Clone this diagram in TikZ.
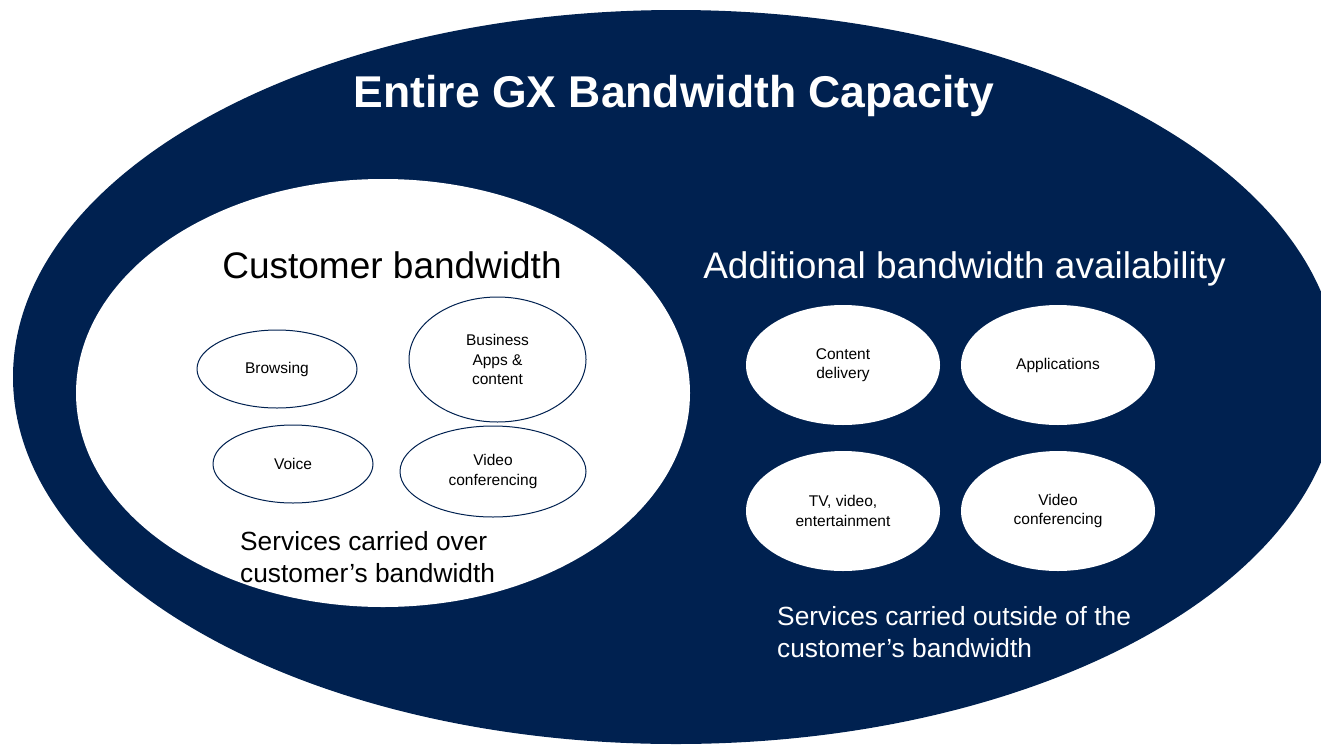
\documentclass[tikz,border=0pt]{standalone}
\usepackage{fontspec}
\setmainfont{Liberation Sans}
\usetikzlibrary{shapes.geometric}
\definecolor{gxnavy}{RGB}{0,33,80}
\begin{document}
\begin{tikzpicture}[x=1pt,y=-1pt,
  outerell/.style={ellipse, fill=gxnavy, draw=none, inner sep=0pt},
  innerell/.style={ellipse, fill=white, draw=none, inner sep=0pt},
  svcell/.style={ellipse, fill=white, draw=gxnavy, line width=1pt, inner sep=0pt, align=center, font=\fontsize{15.5}{19.5}\selectfont},
  extell/.style={ellipse, fill=white, draw=none, inner sep=0pt, align=center, font=\fontsize{15.5}{19.5}\selectfont},
  bigtitle/.style={font=\bfseries\fontsize{44.5}{50}\selectfont, text=white, anchor=base, inner sep=0pt},
  heading/.style={font=\fontsize{37}{44}\selectfont, anchor=base, inner sep=0pt},
  caption/.style={font=\fontsize{26.3}{31.3}\selectfont, anchor=base west, align=left, inner sep=0pt}
]
\useasboundingbox (0,0) rectangle (1321,744);
\clip (0,0) rectangle (1321,744);
\node[outerell, minimum width=1326pt, minimum height=734pt] (gx) at (676,377) {};
\node[innerell, minimum width=614pt, minimum height=428pt] (cust) at (383,393) {};

\node[bigtitle] (title) at (674,107) {Entire GX Bandwidth Capacity};
\node[heading, text=black] (custhead) at (392,278) {Customer bandwidth};
\node[heading, text=white] (addhead) at (964.5,278) {Additional bandwidth availability};

\node[svcell, minimum width=160pt, minimum height=78pt] (browse) at (277,369) {Browsing};
\node[svcell, minimum width=177pt, minimum height=125pt] (biz) at (497.5,359.5) {Business\\Apps \&\\content};
\node[svcell, minimum width=160pt, minimum height=78pt] (voice) at (293,464) {Voice};
\node[svcell, minimum width=186pt, minimum height=91pt] (vidA) at (493,471.5) {Video\\conferencing};

\node[extell, minimum width=194pt, minimum height=120pt] (cdn) at (843,365) {Content\\delivery};
\node[extell, minimum width=194pt, minimum height=120pt] (apps) at (1058,365) {Applications};
\node[extell, minimum width=194pt, minimum height=120pt] (tv) at (843,511) {TV, video,\\entertainment};
\node[extell, minimum width=194pt, minimum height=120pt] (vidB) at (1058,511) {Video\\conferencing};

\node[caption, text=black] (overcap) at (240,582) {Services carried over\\customer’s bandwidth};
\node[caption, text=white] (outcap) at (777,657) {Services carried outside of the\\customer’s bandwidth};
\end{tikzpicture}
\end{document}
